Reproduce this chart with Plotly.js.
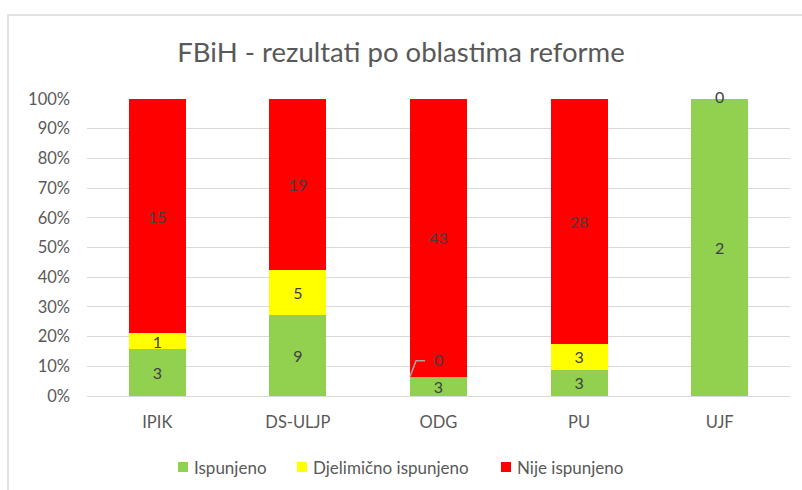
<!DOCTYPE html>
<html><head><meta charset="utf-8">
<script src="https://cdn.plot.ly/plotly-3.0.1.min.js"></script>
<style>html,body{margin:0;padding:0;background:#fff;}#chart{width:802px;height:490px;}</style>
</head><body><div id="chart"></div>
<script>
const categories = ['IPIK', 'DS-ULJP', 'ODG', 'PU', 'UJF'];
const ispunjeno = [3, 9, 3, 3, 2];
const djelimicno = [1, 5, 0, 3, 0];
const nije = [15, 19, 43, 28, 0];
const seriesNames = ['Ispunjeno', 'Djelimično ispunjeno', 'Nije ispunjeno'];
const seriesColors = ['#92d050', '#ffff00', '#ff0000'];
const tickVals = [0,10,20,30,40,50,60,70,80,90,100];
const tickText = tickVals.map(v => v + '%');

const FONT = 'Lato, "Open Sans", sans-serif';
const W = 802, H = 490, ML = 87, MR = 12, MT = 99, MB = 94;
const PW = W - ML - MR, PH = H - MT - MB;
const BARGAP = 0.595;
const series = [ispunjeno, djelimicno, nije];
const totals = categories.map((c, i) => series.reduce((s, a) => s + a[i], 0));

const traces = series.map((vals, k) => ({
  type: 'bar', x: categories, y: vals, name: seriesNames[k],
  marker: {color: seriesColors[k]},
  text: vals.map(v => v === 0 ? '' : String(v)),
  textposition: 'inside', insidetextanchor: 'middle', textangle: 0, constraintext: 'none',
  textfont: {family: FONT, size: 16, color: '#404040'},
  hoverinfo: 'skip', cliponaxis: false, showlegend: false
}));

const pxX = PW / categories.length;   // px per category unit
const pxY = PH / 100;                 // px per percent
const annotations = [];
const shapes = [];
series.forEach((vals, k) => {
  vals.forEach((v, i) => {
    if (v !== 0) return;
    let cum = 0; for (let j = 0; j < k; j++) cum += series[j][i];
    const pct = cum / totals[i] * 100;
    if (k === 2) {
      annotations.push({x: categories[i], y: 100, text: String(v), showarrow: false,
        yshift: 3, font: {family: FONT, size: 16, color: '#404040'}});
    } else if (k === 1 && nije[i] > 0) {
      annotations.push({x: categories[i], y: pct, text: String(v), showarrow: false,
        yshift: 17, font: {family: FONT, size: 16, color: '#404040'}});
      const left = i - (1 - BARGAP) / 2;
      const up = 16 / pxY;
      shapes.push({type: 'path', xref: 'x', yref: 'y',
        path: `M ${left} ${pct} L ${left + 6/pxX} ${pct + up} L ${left + 15/pxX} ${pct + up}`,
        line: {color: '#a6a6a6', width: 1.5}});
    }
  });
});

// custom legend (square + label)
const legendPx = [178, 297, 501];
const legendY = 467;
seriesNames.forEach((n, k) => {
  const x0 = (legendPx[k] - ML) / PW;
  const x1 = (legendPx[k] + 10 - ML) / PW;
  const yc = (H - MB - legendY) / PH;
  shapes.push({type: 'rect', xref: 'paper', yref: 'paper', x0: x0, x1: x1,
    y0: yc - 5 / PH, y1: yc + 5 / PH, fillcolor: seriesColors[k], line: {width: 0}});
  annotations.push({xref: 'paper', yref: 'paper', x: (legendPx[k] + 14 - ML) / PW, y: yc,
    xanchor: 'left', yanchor: 'middle', text: n, showarrow: false,
    font: {family: FONT, size: 17, color: '#595959'}});
});

shapes.push({type: 'rect', xref: 'paper', yref: 'paper',
  x0: (8 - ML) / PW, x1: 1.3, y0: -0.5, y1: (H - MB - 15) / PH,
  line: {color: '#d9d9d9', width: 1.5}, layer: 'below'});

const layout = {
  width: W, height: H,
  margin: {l: ML, r: MR, t: MT, b: MB},
  paper_bgcolor: '#fff', plot_bgcolor: '#fff',
  barmode: 'stack', barnorm: 'percent', bargap: BARGAP,
  title: {text: 'FBiH - rezultati po oblastima reforme', x: 0.5, xanchor: 'center',
    y: 1 - 52 / H, yanchor: 'middle', yref: 'container',
    font: {family: FONT, size: 27.5, color: '#595959'}},
  xaxis: {type: 'category', tickfont: {family: FONT, size: 16.5, color: '#595959'},
    showgrid: false, showline: false, ticks: '', ticklabelstandoff: 14, fixedrange: true},
  yaxis: {range: [0, 100], tickvals: tickVals, ticktext: tickText,
    tickfont: {family: FONT, size: 16.5, color: '#595959'},
    showgrid: true, gridcolor: '#d9d9d9', gridwidth: 1,
    zeroline: true, zerolinecolor: '#d9d9d9', zerolinewidth: 1,
    showline: false, ticks: '', ticklabelstandoff: 16, fixedrange: true},
  showlegend: false,
  annotations: annotations,
  shapes: shapes
};

Plotly.newPlot('chart', traces, layout, {staticPlot: true, displayModeBar: false});
</script></body></html>
